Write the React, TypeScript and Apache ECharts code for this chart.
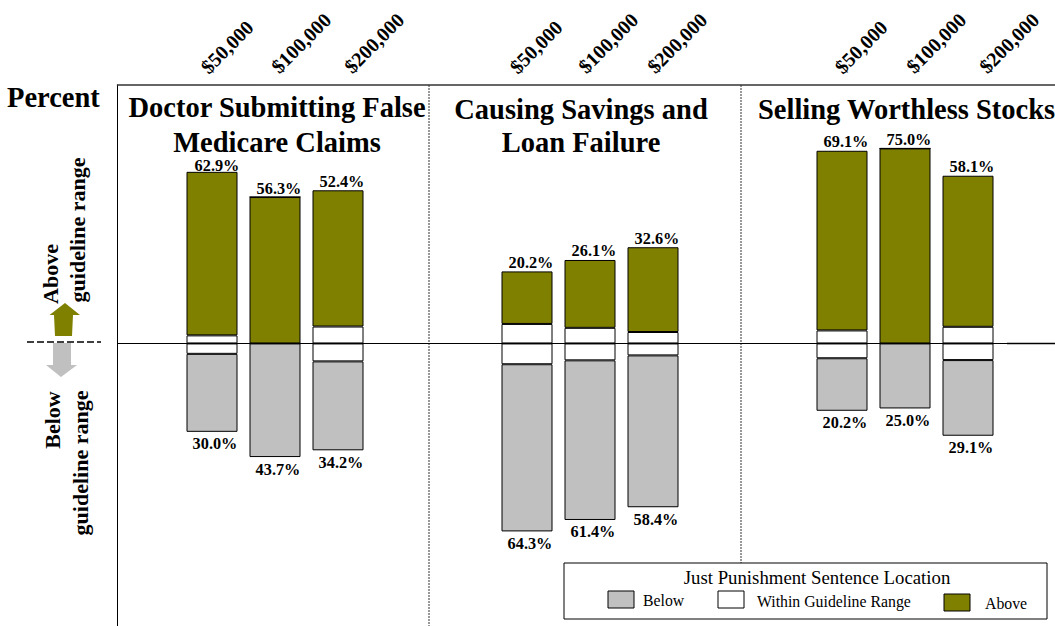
import React, { useEffect, useRef } from "react";
import * as echarts from "echarts";

const fineLevels = ["$50,000", "$100,000", "$200,000"];
const aboveValues = [62.9, 56.3, 52.4, 20.2, 26.1, 32.6, 69.1, 75.0, 58.1];
const withinUpper = [3.1, 0, 6.5, 7.5, 6.0, 4.4, 5.0, 0, 6.4];
const withinLower = [4.0, 0, 6.9, 8.0, 6.5, 4.6, 5.7, 0, 6.4];
const belowValues = [30.0, 43.7, 34.2, 64.3, 61.4, 58.4, 20.2, 25.0, 29.1];

// Centre of each slanted fine label above the frame, one per bar.
const fineLabelCentres = [
  [227, 47], [301, 43], [374, 43],
  [536, 47], [608, 43], [677, 43],
  [861, 47], [936, 43], [1009, 43],
];

const OLIVE = "#808000";
const GRAY = "#C0C0C0";
const SERIF = '"Liberation Serif", serif';

// Three crime panels share one band axis; unused bands make the gaps between them.
const layoutBands = [null, 0, 1, 2, null, null, 3, 4, 5, null, null, 6, 7, 8, null];
const bandLabels = layoutBands.map((i) => (i === null ? "" : fineLevels[i % 3]));
const spread = (values: number[], sign = 1) =>
  layoutBands.map((i) => (i === null ? null : values[i] * sign));

const heading = (text: string, x: number, y: number, align = "center") => ({
  type: "text",
  x,
  y,
  style: { text, x: 0, y: 0, align, verticalAlign: "middle", fontFamily: SERIF, fontWeight: "bold", fontSize: 28.5, fill: "#000" },
});

const sideLabel = (text: string, x: number, y: number) => ({
  type: "text",
  x,
  y,
  rotation: Math.PI / 2,
  style: { text, x: 0, y: 0, align: "center", verticalAlign: "middle", fontFamily: SERIF, fontWeight: "bold", fontSize: 22, fill: "#000" },
});

const fineLabels = fineLabelCentres.map(([x, y], i) => ({
  type: "text",
  x,
  y,
  rotation: Math.PI / 4,
  style: {
    text: fineLevels[i % 3],
    x: 0,
    y: 0,
    align: "center",
    verticalAlign: "middle",
    fontFamily: SERIF,
    fontWeight: "bold",
    fontSize: 20,
    fill: "#000",
  },
}));

const legendText = (text: string, x: number, y: number, align = "left", fontSize = 15.8) => ({
  type: "text",
  x,
  y,
  style: { text, x: 0, y: 0, align, verticalAlign: "middle", fontFamily: SERIF, fontSize, fill: "#000" },
});

const swatch = (x: number, y: number, fill: string) => ({
  type: "rect",
  shape: { x, y, width: 26, height: 17 },
  style: { fill, stroke: "#000", lineWidth: 1 },
});

const divider = (x: number, y2: number) => ({
  type: "line",
  shape: { x1: x, y1: 85, x2: x, y2 },
  style: { stroke: "#333", lineWidth: 1, lineDash: [2, 1] },
});

const percentLabel = (params: any) => {
  const v = typeof params.value === "number" ? params.value : null;
  return v === null ? "" : Math.abs(v).toFixed(1) + "%";
};

const barSeries = (name: string, data: any[], color: string, label?: object) => ({
  name,
  type: "bar",
  stack: "location",
  barWidth: 51,
  data,
  itemStyle: { color, borderColor: "#000", borderWidth: 1 },
  label: label ?? { show: false },
  z: 2,
});

const valueLabel = (position: string, distance: number, dx: number) => ({
  show: true,
  position,
  distance,
  offset: [dx, 0],
  formatter: percentLabel,
  fontFamily: SERIF,
  fontWeight: "bold",
  fontSize: 16.3,
  color: "#000",
});

// The first bar's value sits right against the top of the bar.
const aboveData = spread(aboveValues).map((v, i) =>
  i === 1 ? { value: v, label: { offset: [5, 3] } } : v
);

export default function App() {
  const ref = useRef<HTMLDivElement>(null);

  useEffect(() => {
    if (!ref.current) return;
    const chart = echarts.init(ref.current, undefined, { renderer: "svg" });
    chart.setOption({
      animation: false,
      backgroundColor: "#fff",
      grid: { left: 117.5, top: 85, width: 945, height: 544.44, outerBoundsMode: "none" },
      xAxis: {
        type: "category",
        position: "top",
        data: bandLabels,
        axisLine: { onZero: false, lineStyle: { color: "#333", width: 1.5 } },
        axisTick: { show: false },
        axisLabel: { show: false },
      },
      yAxis: {
        type: "value",
        min: -110,
        max: 99.4,
        axisLine: { show: true, onZero: false, lineStyle: { color: "#000", width: 1 } },
        axisTick: { show: false },
        axisLabel: { show: false },
        splitLine: { show: false },
      },
      series: [
        barSeries("Within Guideline Range", spread(withinUpper), "#fff"),
        barSeries("Above", aboveData, OLIVE, valueLabel("top", 1, 4)),
        barSeries("Within Guideline Range", spread(withinLower, -1), "#fff"),
        barSeries("Below", spread(belowValues, -1), GRAY, valueLabel("bottom", 4, 3)),
        {
          type: "line",
          data: [],
          z: 5,
          markLine: {
            silent: true,
            symbol: "none",
            label: { show: false },
            lineStyle: { color: "#000", width: 1, type: "solid" },
            data: [{ yAxis: 0 }],
          },
        },
      ],
      graphic: [
        ...fineLabels,
        divider(429, 626),
        divider(741, 563),
        heading("Percent", 7, 97, "left"),
        heading("Doctor Submitting False", 277, 107),
        heading("Medicare Claims", 277, 142),
        heading("Causing Savings and", 581, 109),
        heading("Loan Failure", 581, 142),
        heading("Selling Worthless Stocks", 758, 109, "left"),
        sideLabel("Above", 50, 274),
        sideLabel("guideline range", 77, 230),
        sideLabel("Below", 52, 420),
        sideLabel("guideline range", 80, 463),
        {
          type: "polygon",
          shape: { points: [[65, 303], [80, 315], [73, 315], [72, 336], [55, 336], [54, 315], [49.5, 315]] },
          style: { fill: OLIVE },
        },
        {
          type: "polygon",
          shape: { points: [[53, 343], [71, 343], [71, 365], [77, 365], [61, 377], [46, 365], [53, 365]] },
          style: { fill: GRAY },
        },
        {
          type: "line",
          shape: { x1: 27, y1: 342, x2: 101, y2: 342 },
          style: { stroke: "#000", lineWidth: 1.5, lineDash: [7, 3] },
        },
        {
          type: "line",
          shape: { x1: 1007, y1: 343.5, x2: 1055, y2: 343.5 },
          style: { stroke: "#000", lineWidth: 1.5 },
        },
        {
          type: "rect",
          shape: { x: 564, y: 563, width: 483, height: 56 },
          style: { fill: "#fff", stroke: "#000", lineWidth: 1 },
        },
        legendText("Just Punishment Sentence Location", 817, 577, "center", 18.8),
        swatch(608, 591, GRAY),
        legendText("Below", 643, 600),
        swatch(718, 591, "#fff"),
        legendText("Within Guideline Range", 757, 601),
        swatch(944, 594, OLIVE),
        legendText("Above", 985, 603),
      ],
    });
    return () => chart.dispose();
  }, []);

  return <div ref={ref} style={{ position: "absolute", left: 0, top: 0, width: 1055, height: 626 }} />;
}
